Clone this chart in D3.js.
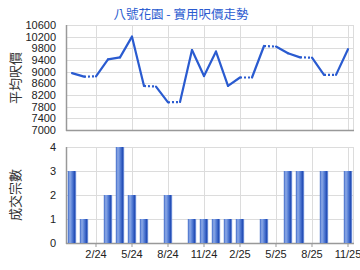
<!DOCTYPE html>
<html><head><meta charset="utf-8">
<script src="https://cdn.jsdelivr.net/npm/d3@7/dist/d3.min.js"></script>
<style>body{margin:0;background:#fff}svg{display:block}</style>
</head><body>
<script>
const months = ["12/23","1/24","2/24","3/24","4/24","5/24","6/24","7/24","8/24","9/24","10/24","11/24","12/24","1/25","2/25","3/25","4/25","5/25","6/25","7/25","8/25","9/25","10/25","11/25"];
const prices = [8950,8830,8840,9420,9490,10200,8510,8490,7950,7960,9740,8850,9690,8510,8800,8800,9880,9860,9630,9490,9480,8890,8890,9770];
const counts = [3,1,0,2,4,2,1,0,2,0,1,1,1,1,1,0,1,0,3,3,0,3,0,3];
const tickMonths = ["2/24","5/24","8/24","11/24","2/25","5/25","8/25","11/25"];
const priceTicks = [7000,7400,7800,8200,8600,9000,9400,9800,10200,10600];
const countTicks = [0,1,2,3,4];
const title = "八號花園 - 實用呎價走勢";

const W=360,H=270, L=66, R=354;
const svg=d3.select("body").append("svg").attr("width",W).attr("height",H);
const defs=svg.append("defs");
const g=defs.append("linearGradient").attr("id","bar").attr("x1","0").attr("x2","1").attr("y1","0").attr("y2","0");
[[0,"#3c68c8"],[0.25,"#8eaae6"],[0.5,"#5b83d8"],[0.8,"#2650b8"],[1,"#8aa6e2"]].forEach(s=>g.append("stop").attr("offset",s[0]).attr("stop-color",s[1]));

const x=d3.scaleBand().domain(months).range([L,R]);
const cx=m=>x(m)+x.bandwidth()/2;
const yP=d3.scaleLinear().domain([7000,10600]).range([130,25]);
const yC=d3.scaleLinear().domain([0,4]).range([243,147]);
const font="'Liberation Sans', Arial, sans-serif";
const cjk="'Noto Sans CJK TC','Noto Sans CJK SC',sans-serif";

function frame(y,ticks,top,bottom){
  const gg=svg.append("g");
  gg.selectAll(".h").data(ticks).join("line").attr("x1",L).attr("x2",R).attr("y1",d=>Math.round(y(d))+0.5).attr("y2",d=>Math.round(y(d))+0.5).attr("stroke","#dcdcdc");
  gg.selectAll(".v").data(tickMonths).join("line").attr("x1",d=>Math.round(cx(d))+0.5).attr("x2",d=>Math.round(cx(d))+0.5).attr("y1",top).attr("y2",bottom).attr("stroke","#dcdcdc");
  gg.append("line").attr("x1",R-0.5).attr("x2",R-0.5).attr("y1",top).attr("y2",bottom).attr("stroke","#dcdcdc");
  const ax=d3.axisLeft(y).tickValues(ticks).tickSize(0).tickPadding(10).tickFormat(d3.format("d"));
  const a=svg.append("g").attr("transform",`translate(${L},0)`).call(ax);
  a.select(".domain").remove();
  a.selectAll("text").attr("font-family",font).attr("font-size",11).attr("fill","#222");
  svg.append("line").attr("x1",L+0.5).attr("x2",L+0.5).attr("y1",top).attr("y2",bottom+1).attr("stroke","#999").attr("stroke-width",1.5);
  svg.append("line").attr("x1",L).attr("x2",R).attr("y1",bottom+0.5).attr("y2",bottom+0.5).attr("stroke","#999").attr("stroke-width",1.5);
}
frame(yP,priceTicks,25,130);
frame(yC,countTicks,147,243);

for(let i=0;i<months.length-1;i++){
  const dotted=counts[i+1]===0;
  svg.append("line").attr("x1",cx(months[i])).attr("y1",yP(prices[i])).attr("x2",cx(months[i+1])).attr("y2",yP(prices[i+1]))
    .attr("stroke","#2a5bd0").attr("stroke-width",2.2).attr("stroke-linecap",dotted?"butt":"round")
    .attr("stroke-dasharray",dotted?"2,2":null);
}
svg.selectAll(".bar").data(months.map((m,i)=>({m,c:counts[i]})).filter(d=>d.c>0)).join("rect")
  .attr("x",d=>cx(d.m)-4.2).attr("width",8.4).attr("y",d=>yC(d.c)).attr("height",d=>yC(0)-yC(d.c)).attr("fill","url(#bar)");

const xa=svg.append("g").attr("transform","translate(0,243)").call(d3.axisBottom(x).tickValues(tickMonths).tickSize(4).tickPadding(3));
xa.select(".domain").remove();
xa.selectAll("line").attr("stroke","#999");
xa.selectAll("text").attr("font-family",font).attr("font-size",11).attr("fill","#222");

svg.append("text").attr("x",181).attr("y",19).attr("text-anchor","middle").attr("font-family",cjk).attr("font-size",12.5).attr("fill","#2a5bd0").text(title);
svg.append("text").attr("transform","translate(20,78) rotate(-90)").attr("text-anchor","middle").attr("font-family",cjk).attr("font-size",13).attr("fill","#333").text("平均呎價");
svg.append("text").attr("transform","translate(20,195) rotate(-90)").attr("text-anchor","middle").attr("font-family",cjk).attr("font-size",13).attr("fill","#333").text("成交宗數");
</script>
</body></html>
